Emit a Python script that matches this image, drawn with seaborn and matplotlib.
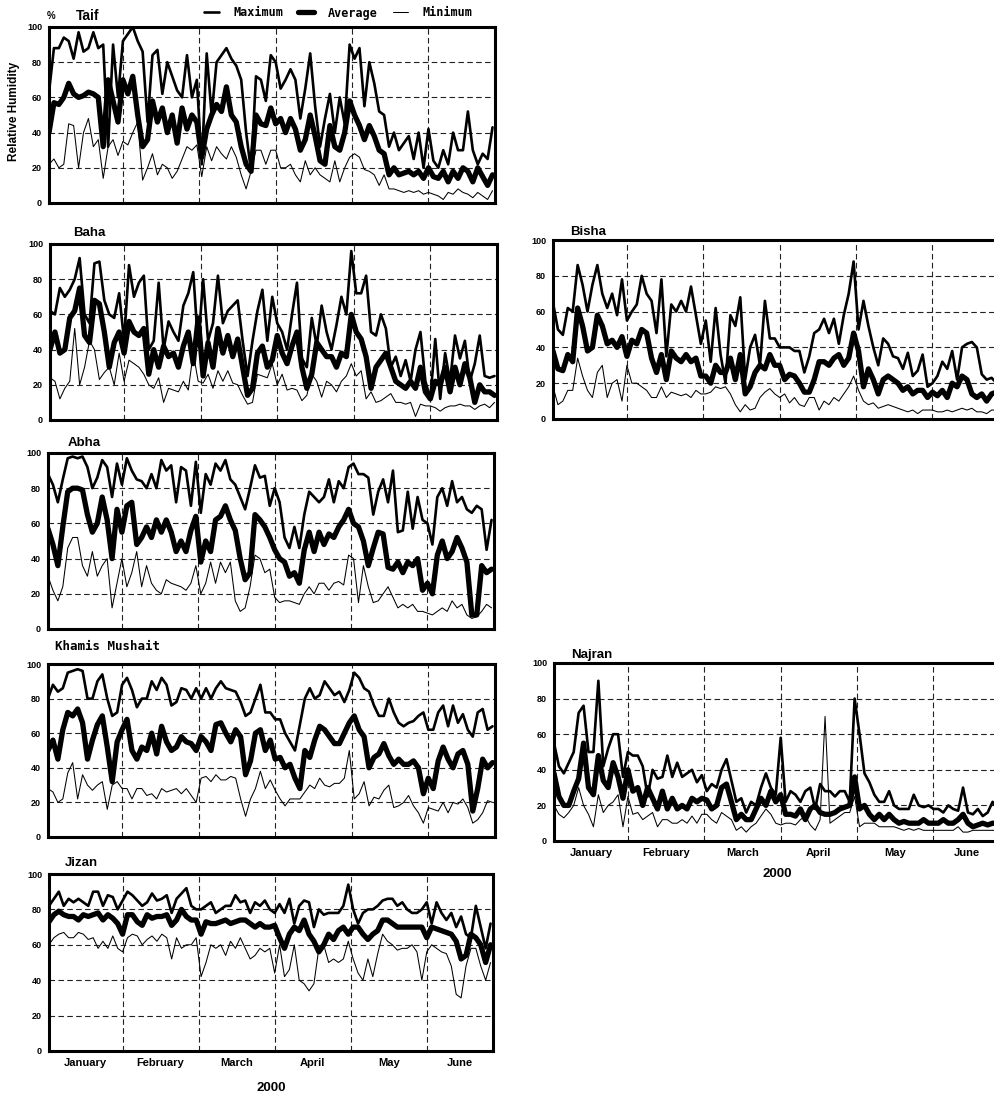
import matplotlib
matplotlib.use("Agg")
import matplotlib.pyplot as plt
import seaborn as sns

W, H = 995, 1097

# every second day, Jan 1 .. Jun 29, 2000
DAYS = list(range(0, 181, 2))
MONTHS = ["January", "February", "March", "April", "May", "June"]
MONTH_EDGES = [30, 61, 92, 123, 154]
MONTH_MIDS = [15, 45.5, 76.5, 107.5, 138.5, 167.5]
Y_TICKS = [0, 20, 40, 60, 80, 100]

TAIF_MAX = [63, 88, 88, 94, 92, 82, 97, 86, 88, 97,
            88, 90, 32, 90, 60, 92, 96, 100, 92, 86,
            46, 84, 87, 62, 80, 72, 64, 60, 84, 60,
            70, 22, 85, 50, 80, 84, 88, 82, 78, 70,
            40, 18, 72, 70, 58, 84, 80, 65, 70, 76,
            70, 48, 65, 85, 55, 32, 48, 62, 40, 60,
            45, 90, 82, 88, 55, 80, 68, 52, 50, 32,
            40, 30, 34, 38, 25, 40, 20, 42, 24, 20,
            30, 22, 40, 30, 30, 52, 30, 22, 28, 25, 43]
TAIF_AVG = [40, 57, 56, 60, 68, 62, 60, 61, 63, 62,
            60, 32, 70, 58, 46, 70, 62, 72, 50, 32,
            36, 58, 46, 54, 40, 50, 34, 54, 42, 50,
            46, 26, 42, 50, 56, 52, 66, 50, 46, 32,
            22, 18, 50, 45, 44, 54, 45, 48, 40, 48,
            42, 30, 36, 50, 38, 24, 22, 44, 32, 30,
            40, 58, 50, 44, 36, 44, 38, 30, 28, 16,
            20, 16, 17, 18, 16, 18, 14, 20, 15, 14,
            18, 12, 18, 14, 20, 18, 12, 20, 15, 10, 16]
TAIF_MIN = [22, 25, 20, 22, 45, 44, 20, 40, 48, 32,
            36, 14, 32, 36, 27, 35, 33, 40, 46, 13,
            20, 28, 16, 22, 20, 14, 18, 25, 32, 30,
            33, 15, 32, 24, 32, 28, 25, 32, 26, 16,
            8, 18, 30, 30, 22, 30, 30, 20, 20, 22,
            16, 12, 24, 16, 20, 16, 14, 12, 24, 12,
            20, 26, 28, 26, 19, 18, 16, 10, 16, 8,
            8, 7, 6, 7, 6, 7, 5, 6, 5, 4,
            2, 6, 5, 8, 6, 5, 3, 6, 4, 2, 7]

BAHA_MAX = [62, 60, 75, 70, 74, 80, 92, 60, 55, 89,
            90, 68, 60, 58, 72, 45, 88, 70, 78, 82,
            40, 45, 78, 40, 56, 50, 45, 65, 72, 84,
            42, 80, 45, 55, 82, 55, 62, 65, 68, 45,
            25, 45, 62, 74, 45, 70, 55, 50, 40, 60,
            78, 35, 30, 58, 42, 65, 50, 40, 54, 70,
            60, 96, 72, 72, 82, 50, 48, 60, 52, 30,
            36, 25, 34, 22, 40, 50, 22, 12, 46, 12,
            38, 22, 48, 35, 45, 22, 32, 48, 25, 24, 25]
BAHA_AVG = [40, 50, 38, 40, 58, 62, 75, 48, 44, 68,
            66, 50, 30, 44, 50, 38, 56, 50, 48, 52,
            26, 40, 30, 42, 36, 38, 30, 42, 50, 32,
            58, 25, 44, 30, 52, 38, 48, 36, 46, 30,
            14, 18, 38, 42, 30, 34, 48, 38, 32, 42,
            50, 30, 18, 26, 44, 40, 36, 36, 30, 38,
            36, 60, 50, 46, 36, 18, 30, 34, 38, 30,
            22, 20, 18, 22, 18, 30, 16, 12, 22, 20,
            30, 16, 30, 20, 32, 24, 10, 20, 16, 16, 14]
BAHA_MIN = [24, 22, 12, 18, 22, 52, 20, 30, 45, 40,
            23, 27, 30, 20, 38, 22, 34, 32, 30, 26,
            20, 18, 24, 10, 18, 17, 16, 22, 17, 38,
            22, 21, 26, 18, 28, 22, 28, 21, 20, 14,
            9, 10, 26, 25, 24, 32, 20, 26, 17, 18,
            17, 11, 14, 26, 22, 13, 22, 20, 16, 22,
            25, 32, 25, 28, 12, 16, 10, 11, 13, 15,
            10, 10, 9, 10, 2, 9, 8, 8, 7, 5,
            7, 8, 8, 9, 8, 8, 6, 8, 9, 7, 10]

BISHA_MAX = [65, 50, 47, 62, 60, 86, 75, 60, 75, 86,
             70, 62, 70, 58, 78, 55, 60, 64, 80, 70,
             66, 48, 78, 35, 64, 60, 66, 60, 74, 58,
             42, 55, 32, 62, 36, 20, 58, 52, 68, 22,
             40, 47, 30, 66, 45, 45, 40, 40, 40, 38,
             38, 26, 35, 48, 50, 56, 48, 56, 42, 58,
             70, 88, 50, 66, 52, 40, 30, 45, 42, 35,
             34, 28, 37, 24, 27, 36, 18, 20, 24, 32,
             28, 38, 22, 40, 42, 43, 40, 25, 22, 23, 20]
BISHA_AVG = [38, 28, 27, 36, 32, 62, 52, 38, 40, 58,
             52, 42, 44, 40, 46, 35, 44, 42, 50, 48,
             34, 26, 36, 22, 38, 34, 32, 36, 32, 34,
             24, 24, 20, 30, 26, 26, 34, 22, 36, 14,
             18, 26, 30, 28, 36, 30, 30, 22, 25, 24,
             20, 15, 15, 22, 32, 32, 30, 34, 36, 30,
             34, 48, 38, 18, 28, 22, 14, 22, 24, 22,
             20, 16, 18, 14, 16, 16, 12, 15, 13, 16,
             12, 20, 18, 24, 22, 14, 12, 14, 10, 14, 15]
BISHA_MIN = [18, 8, 10, 16, 16, 34, 24, 16, 12, 26,
             30, 12, 20, 22, 10, 30, 20, 20, 18, 16,
             12, 12, 18, 12, 15, 14, 13, 14, 12, 16,
             14, 14, 15, 18, 17, 18, 14, 8, 4, 8,
             5, 6, 12, 15, 17, 14, 12, 14, 9, 12,
             8, 7, 12, 12, 5, 10, 8, 12, 10, 14,
             18, 24, 16, 10, 8, 9, 6, 7, 8, 7,
             6, 5, 4, 5, 3, 5, 5, 5, 4, 4,
             5, 4, 5, 6, 5, 6, 4, 4, 3, 5, 5]

ABHA_MAX = [88, 82, 72, 85, 97, 98, 97, 98, 92, 80,
            86, 96, 92, 75, 94, 82, 97, 90, 85, 84,
            80, 88, 80, 96, 90, 93, 72, 92, 90, 70,
            95, 66, 88, 82, 94, 90, 96, 85, 82, 75,
            68, 80, 93, 86, 87, 70, 80, 72, 52, 46,
            58, 46, 65, 78, 75, 72, 75, 85, 72, 84,
            80, 92, 94, 88, 88, 86, 65, 78, 85, 72,
            90, 55, 56, 78, 57, 75, 62, 60, 48, 75,
            80, 70, 84, 72, 75, 68, 66, 70, 68, 45, 62]
ABHA_AVG = [57, 48, 36, 58, 78, 80, 80, 79, 65, 55,
            60, 75, 62, 40, 68, 55, 70, 72, 48, 52,
            58, 52, 62, 55, 62, 55, 44, 50, 44, 56,
            64, 38, 50, 44, 62, 64, 70, 62, 56, 40,
            28, 32, 65, 62, 58, 52, 45, 40, 38, 30,
            32, 26, 45, 55, 44, 55, 48, 54, 52, 58,
            62, 68, 60, 58, 50, 36, 46, 55, 54, 35,
            34, 38, 32, 38, 36, 40, 22, 26, 20, 42,
            50, 40, 44, 52, 46, 38, 8, 8, 36, 32, 34]
ABHA_MIN = [30, 22, 16, 24, 46, 52, 52, 36, 30, 44,
            30, 36, 40, 12, 26, 40, 24, 32, 44, 24,
            36, 26, 22, 20, 28, 26, 25, 24, 22, 26,
            36, 20, 26, 38, 26, 38, 32, 38, 16, 10,
            12, 24, 42, 40, 32, 34, 18, 15, 16, 16,
            15, 14, 20, 24, 20, 26, 26, 22, 26, 27,
            25, 42, 40, 15, 36, 24, 15, 16, 20, 24,
            18, 12, 14, 12, 14, 10, 10, 9, 8, 10,
            12, 10, 16, 12, 14, 8, 6, 7, 10, 14, 12]

KHAMIS_MAX = [80, 88, 84, 86, 95, 96, 97, 96, 80, 80,
              90, 94, 80, 70, 72, 88, 92, 85, 75, 80,
              80, 90, 85, 92, 88, 76, 78, 86, 85, 80,
              86, 80, 86, 80, 86, 90, 86, 85, 84, 78,
              70, 72, 80, 88, 72, 72, 68, 68, 60, 55,
              50, 65, 80, 86, 80, 82, 90, 86, 82, 84,
              78, 85, 95, 92, 86, 84, 76, 70, 70, 80,
              72, 66, 64, 66, 67, 70, 72, 62, 62, 72,
              76, 64, 76, 66, 71, 62, 58, 72, 74, 62, 64]
KHAMIS_AVG = [50, 56, 45, 62, 72, 70, 74, 66, 45, 56,
              65, 70, 52, 32, 55, 62, 68, 50, 45, 52,
              50, 60, 48, 64, 55, 50, 52, 58, 55, 54,
              50, 58, 55, 50, 65, 66, 60, 55, 62, 58,
              36, 44, 60, 62, 50, 56, 45, 46, 40, 42,
              34, 28, 50, 46, 56, 64, 62, 58, 54, 54,
              60, 66, 70, 62, 58, 40, 46, 48, 54, 47,
              42, 45, 42, 42, 44, 40, 25, 34, 28, 44,
              52, 45, 40, 48, 50, 42, 15, 28, 45, 40, 43]
KHAMIS_MIN = [28, 26, 20, 22, 37, 43, 22, 36, 30, 27,
              30, 32, 16, 30, 32, 28, 28, 22, 28, 28,
              24, 25, 22, 28, 26, 27, 28, 25, 28, 24,
              20, 34, 35, 32, 36, 33, 33, 35, 34, 22,
              12, 22, 28, 38, 28, 33, 27, 22, 18, 22,
              22, 22, 26, 30, 28, 34, 30, 29, 31, 31,
              34, 50, 22, 25, 32, 18, 23, 22, 27, 30,
              17, 18, 20, 24, 18, 14, 8, 17, 16, 15,
              20, 14, 20, 19, 22, 17, 8, 10, 14, 21, 20]

JIZAN_MAX = [82, 86, 90, 82, 86, 84, 86, 84, 82, 90,
             90, 82, 88, 87, 80, 85, 90, 88, 85, 82,
             84, 89, 85, 86, 88, 78, 86, 89, 92, 82,
             80, 80, 82, 84, 78, 80, 82, 82, 88, 84,
             85, 78, 84, 82, 85, 80, 78, 83, 78, 86,
             72, 82, 85, 84, 70, 80, 77, 78, 78, 78,
             82, 94, 80, 72, 78, 80, 80, 82, 85, 86,
             86, 82, 84, 80, 78, 78, 80, 84, 72, 84,
             78, 74, 78, 70, 76, 66, 64, 82, 70, 58, 72]
JIZAN_AVG = [73, 77, 79, 77, 76, 76, 74, 77, 76, 77,
             78, 74, 77, 75, 72, 66, 77, 77, 73, 71,
             77, 75, 76, 76, 77, 71, 74, 80, 76, 74,
             74, 66, 73, 72, 72, 73, 74, 72, 73, 74,
             74, 72, 70, 72, 70, 70, 71, 64, 58, 66,
             70, 68, 74, 66, 62, 56, 60, 66, 63, 68,
             70, 66, 70, 70, 66, 63, 66, 68, 74, 74,
             72, 70, 70, 70, 70, 70, 70, 64, 70, 69,
             68, 67, 66, 62, 52, 54, 66, 64, 60, 50, 60]
JIZAN_MIN = [60, 64, 66, 67, 64, 64, 67, 66, 63, 64,
             58, 62, 58, 65, 58, 56, 64, 66, 65, 60,
             63, 65, 62, 66, 64, 52, 64, 58, 60, 60,
             64, 42, 50, 60, 58, 60, 54, 62, 58, 64,
             58, 52, 54, 58, 56, 58, 44, 60, 42, 46,
             60, 40, 38, 34, 38, 58, 60, 50, 52, 50,
             52, 62, 52, 44, 40, 52, 42, 55, 66, 62,
             60, 57, 58, 58, 60, 56, 40, 56, 60, 58,
             56, 55, 48, 32, 30, 48, 58, 58, 48, 40, 50]

NAJRAN_MAX = [55, 42, 38, 44, 50, 72, 76, 50, 50, 90,
              42, 52, 60, 60, 36, 50, 48, 48, 42, 25,
              40, 35, 36, 48, 36, 44, 36, 38, 40, 33,
              37, 28, 32, 30, 40, 46, 34, 22, 24, 16,
              22, 20, 30, 38, 30, 26, 58, 22, 28, 26,
              22, 28, 30, 18, 32, 28, 28, 25, 28, 28,
              22, 80, 60, 38, 33, 26, 22, 22, 28, 20,
              18, 18, 18, 26, 20, 19, 20, 18, 18, 16,
              20, 18, 17, 30, 16, 15, 18, 14, 16, 22, 18]
NAJRAN_AVG = [38, 25, 20, 20, 28, 35, 55, 30, 26, 48,
              34, 30, 44, 36, 24, 40, 28, 30, 20, 30,
              24, 18, 28, 18, 24, 18, 20, 18, 24, 22,
              24, 23, 18, 20, 30, 32, 22, 12, 15, 12,
              12, 18, 24, 20, 28, 22, 26, 15, 15, 14,
              18, 12, 18, 20, 16, 15, 15, 16, 18, 19,
              20, 36, 18, 20, 15, 12, 15, 12, 15, 12,
              10, 11, 10, 10, 10, 12, 10, 10, 10, 12,
              10, 10, 12, 15, 10, 8, 9, 10, 9, 10, 10]
NAJRAN_MIN = [20, 15, 13, 16, 20, 30, 20, 15, 8, 26,
              16, 20, 22, 26, 8, 25, 15, 16, 12, 14,
              16, 8, 12, 12, 10, 10, 12, 10, 14, 10,
              15, 15, 12, 10, 16, 14, 12, 6, 8, 5,
              8, 10, 14, 18, 15, 10, 9, 10, 10, 9,
              12, 14, 9, 6, 12, 70, 10, 12, 14, 16,
              16, 25, 8, 10, 10, 10, 8, 8, 8, 8,
              7, 6, 7, 6, 7, 6, 6, 6, 6, 6,
              6, 6, 8, 5, 5, 6, 6, 6, 6, 6, 6]

STATIONS = {
    "Taif": (TAIF_MAX, TAIF_AVG, TAIF_MIN),
    "Baha": (BAHA_MAX, BAHA_AVG, BAHA_MIN),
    "Bisha": (BISHA_MAX, BISHA_AVG, BISHA_MIN),
    "Abha": (ABHA_MAX, ABHA_AVG, ABHA_MIN),
    "Khamis Mushait": (KHAMIS_MAX, KHAMIS_AVG, KHAMIS_MIN),
    "Najran": (NAJRAN_MAX, NAJRAN_AVG, NAJRAN_MIN),
    "Jizan": (JIZAN_MAX, JIZAN_AVG, JIZAN_MIN),
}

# pixel boxes: left, top, right, bottom
BOXES = {
    "Taif": (49, 27, 495, 203),
    "Baha": (50, 244, 497, 420),
    "Bisha": (553, 240, 999, 419),
    "Abha": (48, 453, 494, 629),
    "Khamis Mushait": (48, 664, 495, 837),
    "Najran": (554, 663, 1000, 841),
    "Jizan": (49, 874, 493, 1051),
}
TITLE_XY = {
    "Taif": (76, 16),
    "Baha": (73, 233),
    "Bisha": (570, 232),
    "Abha": (68, 443),
    "Khamis Mushait": (55, 647),
    "Najran": (571, 655),
    "Jizan": (65, 863),
}
MONO_TITLES = ["Khamis Mushait"]
BOTTOM_PANELS = ["Najran", "Jizan"]

SERIES = [("Maximum", 1.9), ("Average", 3.8), ("Minimum", 0.75)]

sns.set_theme(style="white")
plt.rcParams["font.family"] = ["Liberation Sans", "DejaVu Sans"]
plt.rcParams["text.color"] = "black"
plt.rcParams["axes.labelcolor"] = "black"
plt.rcParams["xtick.color"] = "black"
plt.rcParams["ytick.color"] = "black"
MONO = ["DejaVu Sans Mono", "DejaVu Sans"]


def fx(px):
    return px / W


def fy(py):
    return 1 - py / H


fig = plt.figure(figsize=(W / 100, H / 100), dpi=100)
legend_handles = None

for name, values in STATIONS.items():
    left, top, right, bottom = BOXES[name]
    ax = fig.add_axes([fx(left), fy(bottom), (right - left) / W, (bottom - top) / H])
    for (label, lw), series in zip(SERIES, values):
        sns.lineplot(x=DAYS, y=series, ax=ax, color="black", linewidth=lw,
                     label=label, legend=False, estimator=None)
    ax.set_xlim(0, 181)
    ax.set_ylim(0, 100)
    ax.set_axisbelow(True)
    ax.set_yticks(Y_TICKS)
    ax.set_xticks(MONTH_EDGES)
    ax.grid(True, which="major", color="#222222", linewidth=0.8, linestyle=(0, (5, 3)))
    ax.tick_params(axis="y", length=2, width=1, pad=3, labelsize=6.5, color="black",
                   labelcolor="black")
    ax.tick_params(axis="x", which="major", length=2, width=2, labelbottom=False, color="black")
    for lab in ax.get_yticklabels():
        lab.set_fontweight("bold")
    if name in BOTTOM_PANELS:
        ax.set_xticks(MONTH_MIDS, minor=True)
        ax.set_xticklabels(MONTHS, minor=True, fontsize=8, fontweight="bold", color="black")
        ax.tick_params(axis="x", which="minor", length=0, pad=5)
        ax.set_xlabel("2000", fontsize=9.5, fontweight="bold", color="black",
                      labelpad=10 if name == "Jizan" else 7)
    else:
        ax.set_xlabel("")
    ax.set_ylabel("")
    for sp in ax.spines.values():
        sp.set_linewidth(2.2)
        sp.set_color("black")
    tx, ty = TITLE_XY[name]
    if name in MONO_TITLES:
        fig.text(fx(tx), fy(ty), name, family=MONO, fontsize=9, fontweight="bold",
                 ha="left", va="center", color="black")
    else:
        fig.text(fx(tx), fy(ty), name, fontsize=10 if name == "Taif" else 9.5,
                 fontweight="bold", ha="left", va="center", color="black")
    if name == "Taif":
        legend_handles = ax.get_lines()[:3]

fig.text(fx(51), fy(16), "%", fontsize=7, fontweight="bold", ha="center", va="center",
         color="black")
fig.text(fx(14), fy(111), "Relative Humidity", fontsize=8.5, fontweight="bold",
         rotation=90, ha="center", va="center", color="black")

fig.legend(legend_handles, [s[0] for s in SERIES], loc="center",
           bbox_to_anchor=(fx(338), fy(13)), ncol=3, frameon=False,
           prop={"family": MONO, "weight": "bold", "size": 8.5},
           handlelength=1.3, handletextpad=1.2, columnspacing=1.3)

fig.savefig("out.png", dpi=100)
